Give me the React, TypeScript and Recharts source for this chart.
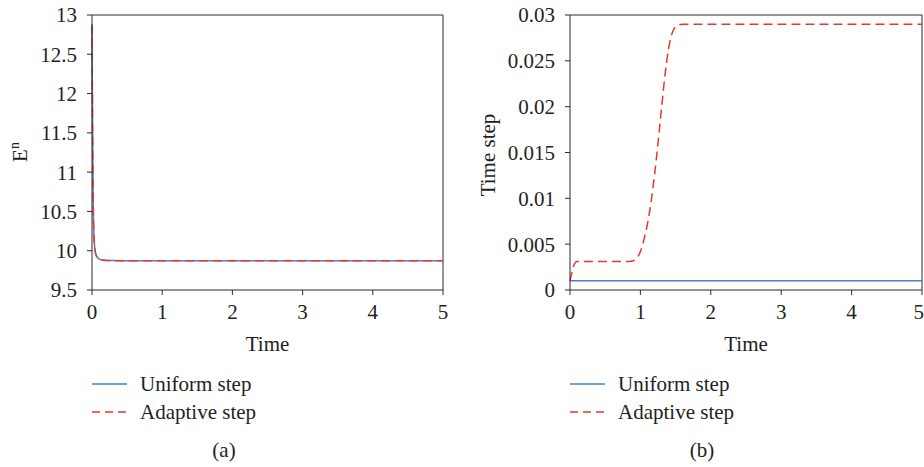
import { LineChart, Line, XAxis, YAxis, ReferenceLine } from 'recharts';

const FONT = '"Liberation Serif", "DejaVu Serif", serif';
const AXIS = '#2b2b2b';
const BLUE = '#4a7fd4';
const RED = '#e8372c';

const TIME_TICKS = [0, 1, 2, 3, 4, 5];
const ENERGY_TICKS = [9.5, 10, 10.5, 11, 11.5, 12, 12.5, 13];
const STEP_TICKS = [0, 0.005, 0.01, 0.015, 0.02, 0.025, 0.03];

// (a) energy E^n over time, both schemes nearly identical
const ENERGY_TIME = [0, 0.004, 0.008, 0.012, 0.016, 0.02, 0.025, 0.03, 0.04, 0.05, 0.06, 0.08, 0.1, 0.13, 0.17, 0.22, 0.3, 0.5, 1, 2, 3, 4, 5];
const ENERGY_UNIFORM = [12.88, 12.2, 11.6, 11.1, 10.7, 10.45, 10.26, 10.15, 10.03, 9.97, 9.94, 9.91, 9.895, 9.885, 9.879, 9.876, 9.874, 9.873, 9.873, 9.873, 9.873, 9.873, 9.873];
const ENERGY_ADAPTIVE = [12.88, 12.2, 11.6, 11.1, 10.7, 10.45, 10.26, 10.15, 10.03, 9.97, 9.94, 9.91, 9.895, 9.885, 9.879, 9.876, 9.874, 9.873, 9.873, 9.873, 9.873, 9.873, 9.873];

// (b) time step size
const STEP_UNIFORM_TIME = [0, 1, 2, 3, 4, 5];
const STEP_UNIFORM = [0.001, 0.001, 0.001, 0.001, 0.001, 0.001];
const STEP_ADAPTIVE_TIME = [0, 0.03, 0.06, 0.1, 0.2, 0.5, 0.8, 0.9, 0.95, 1.0, 1.05, 1.1, 1.15, 1.2, 1.25, 1.3, 1.35, 1.4, 1.45, 1.5, 1.6, 2, 3, 4, 5];
const STEP_ADAPTIVE = [0.001, 0.002, 0.0028, 0.0031, 0.0031, 0.0031, 0.0031, 0.0032, 0.0035, 0.0042, 0.0055, 0.0072, 0.0095, 0.0125, 0.016, 0.0198, 0.0235, 0.0263, 0.028, 0.0287, 0.029, 0.029, 0.029, 0.029, 0.029];

const toPoints = (ts: number[], vs: number[]) => ts.map((t, i) => ({ t, v: vs[i] }));

const tickStyle = { fill: '#231f20', fontSize: 21, fontFamily: FONT };

const fmt = (v: number) => String(+v.toFixed(4));

function Legend({ x, y }: { x: number; y: number }) {
  return (
    <g fontFamily={FONT} fontSize={21} fill="#231f20">
      <line x1={x} x2={x + 35} y1={y} y2={y} stroke={BLUE} strokeWidth={1.5} />
      <text x={x + 48} y={y + 7}>Uniform step</text>
      <line x1={x} x2={x + 35} y1={y + 28} y2={y + 28} stroke={RED} strokeWidth={1.5} strokeDasharray="8 5" />
      <text x={x + 48} y={y + 35}>Adaptive step</text>
    </g>
  );
}

export default function App() {
  const energyUniform = toPoints(ENERGY_TIME, ENERGY_UNIFORM);
  const energyAdaptive = toPoints(ENERGY_TIME, ENERGY_ADAPTIVE);
  const stepUniform = toPoints(STEP_UNIFORM_TIME, STEP_UNIFORM);
  const stepAdaptive = toPoints(STEP_ADAPTIVE_TIME, STEP_ADAPTIVE);

  return (
    <div style={{ position: 'absolute', left: 0, top: 0, width: 924, height: 467, background: '#fff', fontFamily: FONT }}>
      <div style={{ position: 'absolute', left: 0, top: 0 }}>
        <LineChart width={462} height={360} margin={{ top: 15, right: 19, left: 32, bottom: 9 }}>
          <XAxis
            dataKey="t"
            type="number"
            domain={[0, 5]}
            ticks={TIME_TICKS}
            stroke={AXIS}
            tickSize={5}
            tickMargin={9}
            tick={tickStyle}
            height={61}
            label={{ value: 'Time', position: 'insideBottom', offset: 0, fill: '#231f20', fontSize: 21, fontFamily: FONT }}
          />
          <YAxis
            type="number"
            domain={[9.5, 13]}
            ticks={ENERGY_TICKS}
            stroke={AXIS}
            tickSize={5}
            tickMargin={10}
            tick={tickStyle}
            width={60}
            label={{
              content: () => (
                <text x={27} y={152} transform="rotate(-90 27 152)" textAnchor="middle" fontFamily={FONT} fontSize={21} fill="#231f20">
                  E<tspan dy={-8} fontSize={14}>n</tspan>
                </text>
              ),
            }}
          />
          <ReferenceLine y={13} stroke={AXIS} />
          <ReferenceLine x={5} stroke={AXIS} />
          <Line data={energyUniform} dataKey="v" type="monotone" stroke={BLUE} strokeWidth={1.5} dot={false} isAnimationActive={false} />
          <Line data={energyAdaptive} dataKey="v" type="monotone" stroke={RED} strokeWidth={1.5} strokeDasharray="9 5" dot={false} isAnimationActive={false} />
        </LineChart>
      </div>
      <div style={{ position: 'absolute', left: 462, top: 0 }}>
        <LineChart width={462} height={360} margin={{ top: 15, right: 2, left: 38, bottom: 9 }}>
          <XAxis
            dataKey="t"
            type="number"
            domain={[0, 5]}
            ticks={TIME_TICKS}
            stroke={AXIS}
            tickSize={5}
            tickMargin={9}
            tick={tickStyle}
            height={61}
            label={{ value: 'Time', position: 'insideBottom', offset: 0, fill: '#231f20', fontSize: 21, fontFamily: FONT }}
          />
          <YAxis
            type="number"
            domain={[0, 0.03]}
            ticks={STEP_TICKS}
            tickFormatter={fmt}
            stroke={AXIS}
            tickSize={5}
            tickMargin={10}
            tick={tickStyle}
            width={70}
            label={{
              content: () => (
                <text x={33} y={155} transform="rotate(-90 33 155)" textAnchor="middle" fontFamily={FONT} fontSize={21} fill="#231f20">
                  Time step
                </text>
              ),
            }}
          />
          <ReferenceLine y={0.03} stroke={AXIS} />
          <ReferenceLine x={5} stroke={AXIS} />
          <Line data={stepUniform} dataKey="v" type="linear" stroke={BLUE} strokeWidth={1.5} dot={false} isAnimationActive={false} />
          <Line data={stepAdaptive} dataKey="v" type="monotone" stroke={RED} strokeWidth={1.5} strokeDasharray="9 5" dot={false} isAnimationActive={false} />
        </LineChart>
      </div>
      <svg width={924} height={467} style={{ position: 'absolute', left: 0, top: 0, pointerEvents: 'none' }}>
        <Legend x={92} y={384} />
        <Legend x={570} y={384} />
        <text x={224} y={457} textAnchor="middle" fontFamily={FONT} fontSize={21} fill="#231f20">(a)</text>
        <text x={702} y={457} textAnchor="middle" fontFamily={FONT} fontSize={21} fill="#231f20">(b)</text>
      </svg>
    </div>
  );
}
